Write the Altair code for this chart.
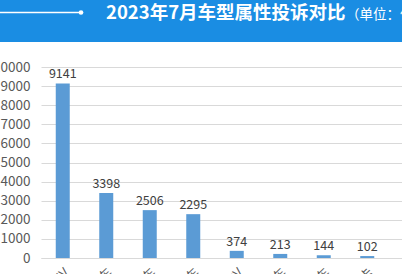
import altair as alt
import pandas as pd

categories = ["SUV", "紧凑型车", "中型车", "小型车", "MPV", "中大型车", "微型车", "皮卡", "跑车"]
values = [9141, 3398, 2506, 2295, 374, 213, 144, 102, 98]
y_ticks = [0, 1000, 2000, 3000, 4000, 5000, 6000, 7000, 8000, 9000, 10000]
title_text = "2023年7月车型属性投诉对比"
unit_text = "（单位：件）"

df = pd.DataFrame({"cat": categories, "val": values})
FONT = "Noto Sans CJK SC"

W, H = 361, 191
LEFT, TOP = 41, 67

x_enc = alt.X("cat:N", sort=categories,
              scale=alt.Scale(range=[0, 391.5], paddingInner=0, paddingOuter=0),
              axis=alt.Axis(title=None, labelAngle=-45, labelFontSize=13, labelColor="#595959",
                            labelFont=FONT, ticks=False, domainColor="#d9d9d9", labelPadding=8))

y_enc = alt.Y("val:Q", scale=alt.Scale(domain=[0, 10000], nice=False),
              axis=alt.Axis(title=None, values=y_ticks, ticks=False, domain=False, format="d",
                            labelOverlap=False, labelFontSize=13.5, labelColor="#595959",
                            labelFont=FONT, labelPadding=11, gridColor="#d9d9d9", gridWidth=1))

base = alt.Chart(df)

bars = base.mark_bar(size=14, color="#5b9bd5").encode(x=x_enc, y=y_enc)

labels = base.mark_text(baseline="alphabetic", dy=-5, fontSize=12.5, color="#404040", font=FONT).encode(
    x=x_enc,
    y=y_enc,
    text="val:Q",
)

hdr = alt.Chart(alt.Data(values=[{"a": 1}]))
header = hdr.mark_rect(color="#1a8de3").encode(
    x=alt.value(-LEFT), x2=alt.value(W + 10), y=alt.value(-TOP), y2=alt.value(42 - TOP)
)
line = hdr.mark_rule(color="white", strokeWidth=1.5).encode(
    x=alt.value(-LEFT), x2=alt.value(81 - LEFT), y=alt.value(12.5 - TOP)
)
dot = hdr.mark_point(filled=True, color="white", size=22, opacity=1).encode(
    x=alt.value(81 - LEFT), y=alt.value(12.5 - TOP)
)
title = hdr.mark_text(align="left", baseline="alphabetic", fontSize=18.5, fontWeight="bold",
                      color="white", font=FONT, text=title_text).encode(
    x=alt.value(106 - LEFT), y=alt.value(18.5 - TOP)
)
unit = hdr.mark_text(align="left", baseline="alphabetic", fontSize=13.5,
                     color="white", font=FONT, text=unit_text).encode(
    x=alt.value(346 - LEFT), y=alt.value(18.5 - TOP)
)

chart = alt.layer(bars, labels, header, line, dot, title, unit).properties(
    width=W, height=H,
    autosize=alt.AutoSizeParams(type="none"),
    padding={"left": LEFT, "top": TOP, "right": 0, "bottom": 274 - TOP - H},
    background="white",
).configure_view(stroke=None)

chart.save("out.html", embed_options={"renderer": "svg", "actions": False})
